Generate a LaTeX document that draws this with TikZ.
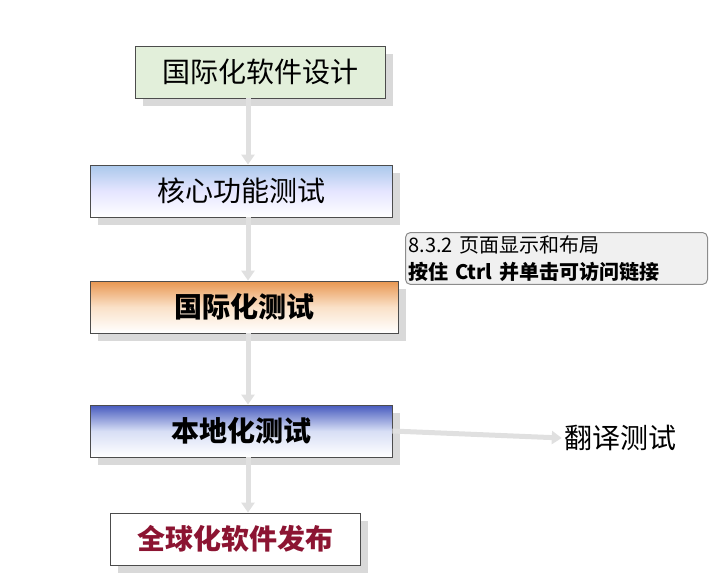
\documentclass[tikz,border=0pt]{standalone}
\usepackage{fontspec}
\setmainfont{Noto Sans CJK SC}
\usetikzlibrary{arrows.meta,shadows}
\begin{document}
\begin{tikzpicture}[x=1pt,y=-1pt,
 box/.style={draw=black!70,line width=0.8pt,minimum height=52pt,inner sep=0pt,font=\fontsize{28}{30}\selectfont,
   drop shadow={shadow xshift=8pt,shadow yshift=-8pt,fill=black!15,opacity=1}},
 flow/.style={draw=black!12,line width=5pt,-{Triangle[length=10pt,width=13pt]}},
]
\useasboundingbox (0,0) rectangle (725,575);
\node[box,fill={rgb,255:red,226;green,239;blue,218},minimum width=250pt] (a) at (260,72) {国际化软件设计};
\node[box,top color={rgb,255:red,170;green,200;blue,235},bottom color=white,middle color=white!90!blue,minimum width=302pt] (b) at (241,191) {核心功能测试};
\node[box,top color={rgb,255:red,232;green,150;blue,80},bottom color=white,middle color={rgb,255:red,250;green,225;blue,200},minimum width=308pt,font=\fontsize{28}{30}\selectfont\bfseries] (c) at (244,307) {国际化测试};
\node[box,top color={rgb,255:red,70;green,90;blue,190},bottom color=white,middle color={rgb,255:red,215;green,222;blue,245},minimum width=302pt,font=\fontsize{28}{30}\selectfont\bfseries] (d) at (241,431) {本地化测试};
\node[box,fill=white,minimum width=250pt,text={rgb,255:red,140;green,20;blue,50},font=\fontsize{28}{30}\selectfont\bfseries] (e) at (235,539) {全球化软件发布};
\node[font=\fontsize{28}{30}\selectfont,inner sep=2pt] (f) at (620,438) {翻译测试};
\coordinate (ax) at (248,0);
\draw[flow] (a.south -| ax) -- (b.north -| ax);
\draw[flow] (b.south -| ax) -- (c.north -| ax);
\draw[flow] (c.south -| ax) -- (d.north -| ax);
\draw[flow] (d.south -| ax) -- (e.north -| ax);
\draw[flow] (d.east) -- (f.west);
\node[draw=black!45,fill=black!6,rounded corners=5pt,line width=1pt,align=left,anchor=north west,
  font=\fontsize{20}{27}\selectfont,inner sep=3pt,text width=296pt] (t) at (405,232)
  {8.3.2 页面显示和布局\\\textbf{按住 Ctrl 并单击可访问链接}};
\end{tikzpicture}
\end{document}
